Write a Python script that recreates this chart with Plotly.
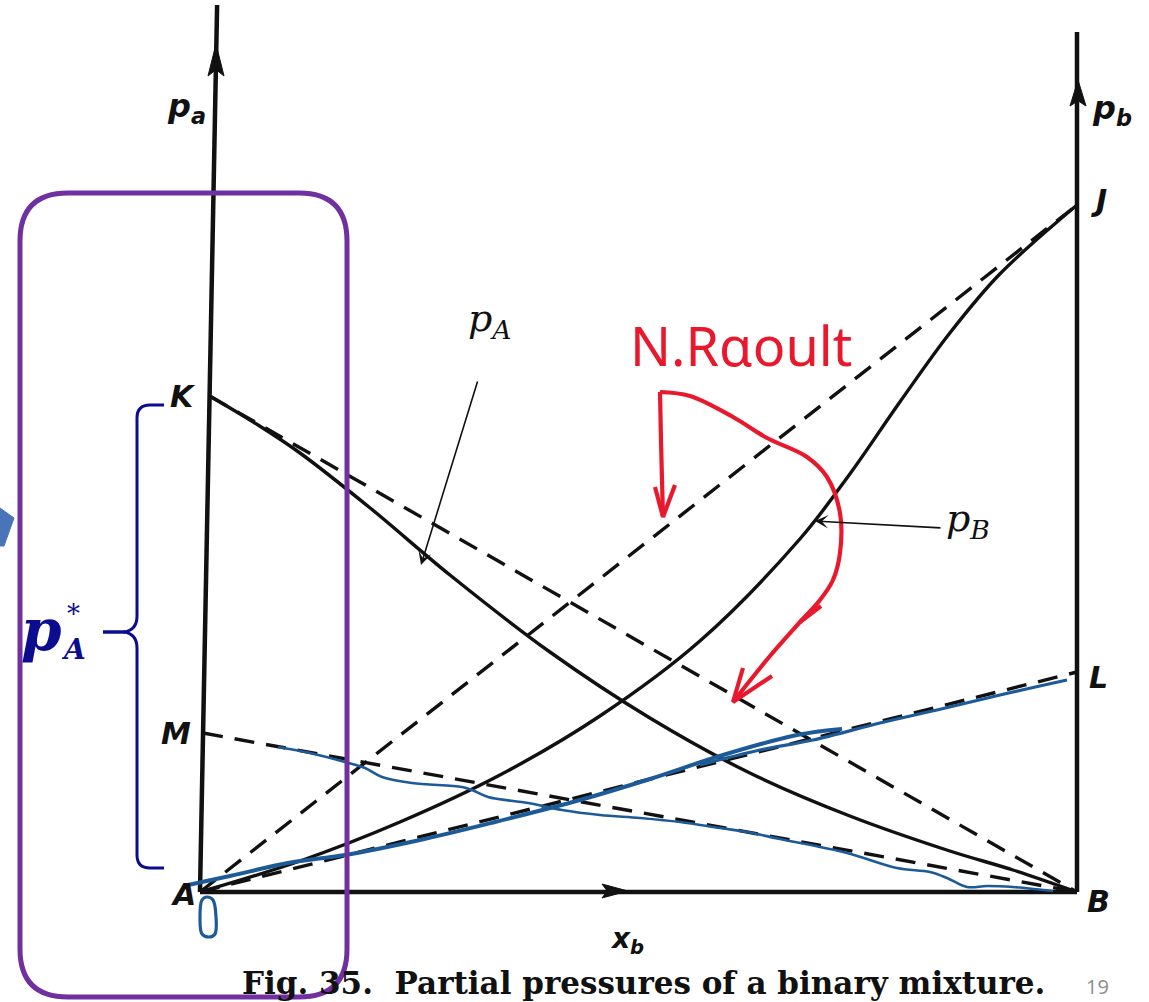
import plotly.graph_objects as go

W, H = 1149, 1002

# ---- diagram values: mole fraction x_b and partial pressures (arbitrary units) ----
xb_pA = [0.011, 0.068, 0.114, 0.194, 0.285, 0.399, 0.513, 0.627, 0.741, 0.855, 0.927, 1.0]
p_A = [4.96, 4.66, 4.39, 3.84, 3.17, 2.40, 1.74, 1.19, 0.76, 0.41, 0.22, 0.0]

xb_pB = [0.0, 0.114, 0.228, 0.342, 0.456, 0.570, 0.684, 0.741, 0.798, 0.855, 0.912, 1.0]
p_B = [0.0, 0.31, 0.70, 1.17, 1.76, 2.51, 3.53, 4.18, 4.90, 5.59, 6.18, 6.87]

pA_star = 4.96   # K : vapour pressure of pure A
pB_star = 6.87   # J : vapour pressure of pure B
k_A = 1.59       # M : Henry constant of A
k_B = 2.20       # L : Henry constant of B

lean = 0.0022    # the printed p_a axis leans slightly to the right
axis_top_a = 8.87
axis_top_b = 8.60

INK = "#111111"
BLUE_PEN = "#1d5a98"
RED_PEN = "#e8192c"
NAVY = "#0c0c8f"
PURPLE = "#7030a0"

fig = go.Figure()


def ink(x, y, dash=None, width=3.4, color=INK, shape="linear", axes=("x", "y"), fill=None):
    fig.add_trace(go.Scatter(
        x=x, y=y, mode="lines", xaxis=axes[0], yaxis=axes[1],
        line=dict(color=color, width=width, dash=dash, shape=shape,
                  smoothing=1.0 if shape == "spline" else None),
        fill=fill, fillcolor=color if fill else None,
        hoverinfo="skip", showlegend=False))


# frame of the diagram
ink([0, lean * axis_top_a], [0, axis_top_a], width=4.5)
ink([1, 1], [0, axis_top_b], width=4.5)
ink([0, 1], [0, 0], width=4.5)

# ideal (Raoult) and Henry lines
DASH = "20px,12px"
ink([lean * pA_star, 1], [pA_star, 0], dash=DASH)
ink([0, 1], [0, pB_star], dash=DASH)
ink([lean * k_A, 1], [k_A, 0], dash=DASH)
ink([0, 1], [0, k_B], dash=DASH)

# real partial pressure curves
ink(xb_pA, p_A, shape="spline")
ink(xb_pB, p_B, shape="spline")

PX = ("x2", "y2")


def head(tip, direction, length, half):
    """filled arrow head in sheet pixels"""
    tx, ty = tip
    dx, dy = direction
    bx, by = tx - dx * length, ty - dy * length
    nx, ny = -dy, dx
    xs = [tx, bx + nx * half, tx - dx * length * 0.8, bx - nx * half, tx]
    ys = [ty, by + ny * half, ty - dy * length * 0.8, by - ny * half, ty]
    ink(xs, ys, width=1, axes=PX, fill="toself")


head((216, 44), (0, -1), 32, 8)
head((1078, 80), (0, -1), 26, 8)
head((628, 891), (1, 0), 26, 7)

# hand-drawn blue traces following the Henry lines
blue_henry_B_1 = [(188, 885), (230, 876), (288, 863), (345, 855), (420, 840), (495, 822),
                  (580, 800), (650, 779), (723, 755), (797, 735), (842, 729)]
blue_henry_B_2 = [(700, 765), (760, 750), (813, 740), (880, 723), (937, 710), (1000, 695), (1067, 680)]
blue_henry_A = [(278, 747), (310, 753), (345, 762), (365, 768), (382, 777), (412, 783), (462, 787),
                (472, 790), (488, 797), (528, 803), (562, 810), (600, 815), (640, 818), (680, 822),
                (720, 828), (747, 832), (780, 839), (847, 853), (897, 868), (930, 872), (947, 878),
                (967, 887), (987, 886), (1013, 887), (1053, 891)]
for stroke, w in ((blue_henry_B_1, 4), (blue_henry_B_2, 3.2), (blue_henry_A, 2.6)):
    ink([p[0] for p in stroke], [p[1] for p in stroke], width=w, color=BLUE_PEN,
        shape="spline", axes=PX)

# blue "0" written below A
zero = [(202, 900), (200, 918), (202, 934), (209, 937), (215, 934), (216, 917), (213, 900), (207, 897), (202, 900)]
ink([p[0] for p in zero], [p[1] for p in zero], width=3.2, color=BLUE_PEN, shape="spline", axes=PX)

# red marks pointing at the Raoult lines
red_strokes = [
    [(660, 392), (661, 440), (662, 480), (663, 517)],
    [(655, 487), (663, 517), (675, 485)],
    [(660, 392), (690, 396), (733, 417), (767, 438), (807, 457), (827, 477), (840, 513),
     (840, 553), (833, 580), (820, 600), (800, 622), (770, 656), (733, 702)],
    [(800, 622), (821, 606)],
    [(743, 668), (733, 702), (772, 676)],
]
for stroke in red_strokes:
    ink([p[0] for p in stroke], [p[1] for p in stroke], width=4.2, color=RED_PEN,
        shape="spline" if len(stroke) > 3 else "linear", axes=PX)

# piece of a block arrow entering from the left edge
chev = [(0, 508), (14, 518), (4, 546), (0, 546), (0, 508)]
ink([p[0] for p in chev], [p[1] for p in chev], width=1, color="#4a74b8", axes=PX, fill="toself")

shapes = []
# purple rounded frame around the p_a axis region
x0, x1, y0, y1, r = 20, 347, 193, 997, 48
shapes.append(dict(
    type="path", xref="x2", yref="y2", layer="above",
    path=(f"M {x0 + r},{y0} L {x1 - r},{y0} Q {x1},{y0} {x1},{y0 + r} L {x1},{y1 - r} "
          f"Q {x1},{y1} {x1 - r},{y1} L {x0 + r},{y1} Q {x0},{y1} {x0},{y1 - r} "
          f"L {x0},{y0 + r} Q {x0},{y0} {x0 + r},{y0} Z"),
    line=dict(color=PURPLE, width=5)))
# brace marking p_A*
shapes.append(dict(
    type="path", xref="x2", yref="y2", layer="above",
    path=("M 164,405 L 150,405 Q 137,405 137,418 L 137,616 Q 137,630 124,632 "
          "Q 137,634 137,648 L 137,855 Q 137,868 150,868 L 164,868"),
    line=dict(color=NAVY, width=3)))
shapes.append(dict(type="line", xref="x2", yref="y2", x0=103, x1=125, y0=632, y1=632,
                   line=dict(color=NAVY, width=3.5)))

ann = []


def label(x, y, text, size, color=INK, family="DejaVu Sans", **kw):
    ann.append(dict(x=x, y=y, xref="x2", yref="y2", text=text, showarrow=False,
                    font=dict(family=family, size=size, color=color, **kw),
                    xanchor="center", yanchor="middle"))


SANS_BI = dict(weight="bold", style="italic")
label(183, 396, "K", 30, **SANS_BI)
label(176, 733, "M", 30, **SANS_BI)
label(183, 894, "A", 30, **SANS_BI)
label(1098, 901, "B", 30, **SANS_BI)
label(1098, 677, "L", 30, **SANS_BI)
label(1099, 200, "J", 30, **SANS_BI)
label(186, 108, "p<sub>a</sub>", 32, **SANS_BI)
label(1112, 110, "p<sub>b</sub>", 32, **SANS_BI)
label(627, 940, "x<sub>b</sub>", 28, **SANS_BI)

label(490, 320, "<i>p</i><sub><i>A</i></sub>", 38, family="DejaVu Serif")
label(968, 520, "<i>p</i><sub><i>B</i></sub>", 38, family="DejaVu Serif")

label(741, 345, "N.R\u03b1oult", 54, color=RED_PEN, family="Noto Sans")

label(41, 630, "<b><i>p</i></b>", 58, color=NAVY, family="DejaVu Serif")
label(73, 614, "*", 26, color=NAVY, family="DejaVu Serif")
label(73, 649, "<b><i>A</i></b>", 28, color=NAVY, family="DejaVu Serif")

label(643, 983, "<b>Fig. 35.  Partial pressures of a binary mixture.</b>", 31, family="DejaVu Serif")
label(1097, 986, "19", 20, color="#8c8c8c", family="Open Sans")

# pointers from the curve names
for tip, tail in (((421, 565), (478, 380)), ((815, 521), (942, 528))):
    ann.append(dict(x=tip[0], y=tip[1], ax=tail[0], ay=tail[1], xref="x2", yref="y2",
                    axref="x2", ayref="y2", text="", showarrow=True, arrowhead=3,
                    arrowwidth=1.6, arrowsize=1.4, arrowcolor=INK, standoff=0))

fig.update_layout(
    width=W, height=H, autosize=False,
    margin=dict(l=0, r=0, t=0, b=0, pad=0),
    paper_bgcolor="white", plot_bgcolor="white",
    xaxis=dict(range=[-200 / 877, 949 / 877], visible=False, fixedrange=True),
    yaxis=dict(range=[(892 - H) / 100, 892 / 100], visible=False, fixedrange=True),
    xaxis2=dict(range=[0, W], overlaying="x", visible=False, fixedrange=True),
    yaxis2=dict(range=[H, 0], overlaying="y", visible=False, fixedrange=True),
    shapes=shapes, annotations=ann, showlegend=False,
)

fig.write_html("out.html", config=dict(displayModeBar=False))
